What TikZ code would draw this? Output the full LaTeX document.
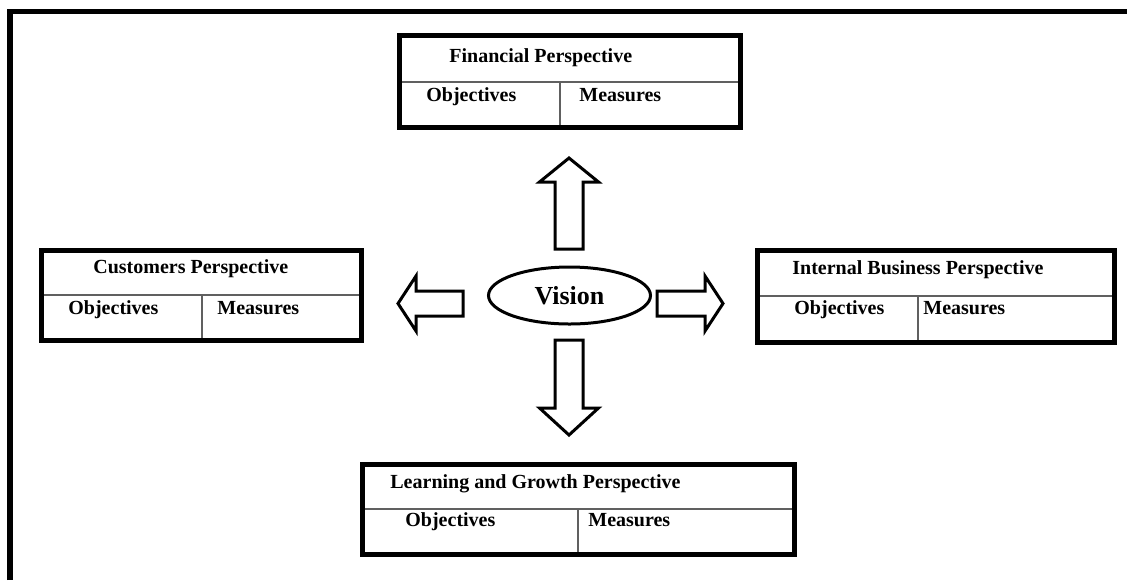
\documentclass[tikz,border=0pt]{standalone}
\usepackage{fontspec}
\setmainfont{Liberation Serif}
\usetikzlibrary{shapes.geometric}
\begin{document}
\begin{tikzpicture}[x=0.5pt,y=-0.5pt,
  box/.style={line width=2.5pt},
  divider/.style={line width=0.8pt, gray!75!black},
  fat/.style={line width=1.5pt, line join=miter},
  lbl/.style={anchor=base west, inner sep=0pt, font=\bfseries\fontsize{10}{12}\selectfont}]
\fill[white] (0,0) rectangle (1127,580);
\useasboundingbox (0,0) rectangle (1127,580);
% frame
\draw[line width=2.8pt] (10,580) -- (10,11.5) -- (1127,11.5);

% financial
\draw[divider] (399,82) -- (740,82);
\draw[divider] (560,82) -- (560,127);
\draw[box] (399,35.5) rectangle (740,127);
\node[lbl] (fintitle) at (449,62) {Financial Perspective};
\node[lbl] (finobj) at (426,101) {Objectives};
\node[lbl] (finmeas) at (579,101) {Measures};

% customers
\draw[divider] (41,295) -- (361,295);
\draw[divider] (202,295) -- (202,340);
\draw[box] (41,250) rectangle (361,340);
\node[lbl] (custtitle) at (93,273) {Customers Perspective};
\node[lbl] (custobj) at (68,314) {Objectives};
\node[lbl] (custmeas) at (217,314) {Measures};

% internal business
\draw[divider] (757,296) -- (1114,296);
\draw[divider] (918,296) -- (918,342);
\draw[box] (757,250) rectangle (1114,342);
\node[lbl] (inttitle) at (792,274) {Internal Business Perspective};
\node[lbl] (intobj) at (794,314) {Objectives};
\node[lbl] (intmeas) at (923,314) {Measures};

% learning and growth
\draw[divider] (362,509) -- (794,509);
\draw[divider] (578,509) -- (578,554);
\draw[box] (362,464) rectangle (794,554);
\node[lbl] (learntitle) at (390,488) {Learning and Growth Perspective};
\node[lbl] (learnobj) at (405,526) {Objectives};
\node[lbl] (learnmeas) at (588,526) {Measures};

% vision
\node[ellipse, draw, line width=1.5pt, minimum width=81pt, minimum height=28.5pt, inner sep=0pt,
  font=\bfseries\fontsize{13}{15}\selectfont] (vision) at (569.5,295.5) {Vision};

% block arrows
\draw[fat] (555,249) -- (555,182) -- (539.5,182) -- (569,158) -- (598.5,182) -- (583,182) -- (583,249) -- cycle;
\draw[fat] (555,340) -- (555,408) -- (539.5,408) -- (569,435) -- (598.5,408) -- (583,408) -- (583,340) -- cycle;
\draw[fat] (463,291) -- (416,291) -- (416,276) -- (398,303.5) -- (416,331) -- (416,316) -- (463,316) -- cycle;
\draw[fat] (657,291) -- (705,291) -- (705,276) -- (723,303.5) -- (705,331) -- (705,316) -- (657,316) -- cycle;
\end{tikzpicture}
\end{document}
